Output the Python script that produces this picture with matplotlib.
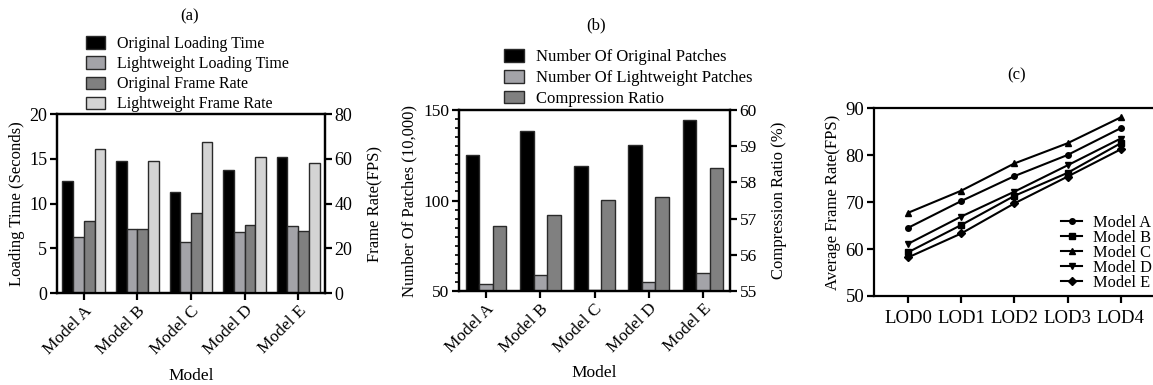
import matplotlib
matplotlib.use("Agg")
import matplotlib.pyplot as plt
import numpy as np
from matplotlib.ticker import MultipleLocator

plt.rcParams['font.family'] = ['Liberation Serif', 'DejaVu Serif']
plt.rcParams['font.size'] = 12

models = ["Model A", "Model B", "Model C", "Model D", "Model E"]

# Panel (a)
orig_load = [12.5, 14.8, 11.3, 13.7, 15.2]
light_load = [6.3, 7.2, 5.7, 6.8, 7.5]
orig_fps = [32.0, 28.8, 35.6, 30.3, 27.5]
light_fps = [64.5, 59.2, 67.7, 61.0, 58.2]

# Panel (b)
orig_patches = [125, 138.5, 119, 130.5, 144.5]
light_patches = [54, 59, 50.5, 55, 60]
comp_ratio = [56.8, 57.1, 57.5, 57.6, 58.4]

# Panel (c)
lods = ["LOD0", "LOD1", "LOD2", "LOD3", "LOD4"]
fps_A = [64.5, 70.2, 75.5, 80.0, 85.7]
fps_B = [59.3, 65.1, 71.3, 76.2, 82.5]
fps_C = [67.7, 72.4, 78.2, 82.5, 88.0]
fps_D = [61.1, 66.9, 72.2, 77.8, 83.5]
fps_E = [58.2, 63.3, 69.7, 75.4, 81.2]

W, H = 1153, 385
fig = plt.figure(figsize=(W/100, H/100), dpi=100)

def ax_at(x0, y0, x1, y1):
    return fig.add_axes([x0/W, 1 - y1/H, (x1-x0)/W, (y1-y0)/H])

C_BLACK = "#000000"
C_LG = "#a3a3a8"
C_DG = "#808080"
C_VL = "#d4d4d4"
EC = "#2a2a2a"
SPW = 1.6

def style(ax, size):
    for s in ax.spines.values():
        s.set_linewidth(SPW)
    ax.tick_params(which='major', length=5, width=SPW, direction='out', labelsize=size, pad=2)
    ax.tick_params(which='minor', length=3, width=1.2, direction='out')

# ---------- (a) ----------
axa = ax_at(57, 114, 325, 293)
axa2 = axa.twinx()
x = np.arange(len(models))
bw = 0.2
h1 = axa.bar(x - 1.5*bw, orig_load, bw, color=C_BLACK, edgecolor=EC, linewidth=1, label="Original Loading Time")
h2 = axa.bar(x - 0.5*bw, light_load, bw, color=C_LG, edgecolor=EC, linewidth=1, label="Lightweight Loading Time")
h3 = axa2.bar(x + 0.5*bw, orig_fps, bw, color=C_DG, edgecolor=EC, linewidth=1, label="Original Frame Rate")
h4 = axa2.bar(x + 1.5*bw, light_fps, bw, color=C_VL, edgecolor=EC, linewidth=1, label="Lightweight Frame Rate")
axa.set_xlim(-0.5, 4.5)
axa.set_ylim(0, 20)
axa2.set_ylim(0, 80)
axa.set_yticks([0, 5, 10, 15, 20])
axa2.set_yticks([0, 20, 40, 60, 80])
axa.set_xticks(x)
style(axa, 13); style(axa2, 13)
axa.set_xticklabels(models, rotation=45, ha='right', rotation_mode='anchor', fontsize=12.5)
axa.set_ylabel("Loading Time (Seconds)", labelpad=3, fontsize=12)
axa2.set_ylabel("Frame Rate(FPS)", labelpad=11, fontsize=12)
axa.set_xlabel("Model", labelpad=7, fontsize=12.5)
fig.text(190/W, 1 - 16/H, "(a)", ha='center', va='center', fontsize=12)
fig.legend(handles=[h1, h2, h3, h4], loc='upper left', bbox_to_anchor=(86/W, 1 - 36/H),
           frameon=False, handlelength=1.2, handleheight=0.8, labelspacing=0.26,
           handletextpad=0.75, borderaxespad=0, borderpad=0, fontsize=11.5)

# ---------- (b) ----------
axb = ax_at(459, 110, 730, 291)
axb2 = axb.twinx()
bw = 0.25
g1 = axb.bar(x - bw, orig_patches, bw, color=C_BLACK, edgecolor=EC, linewidth=1, label="Number Of Original Patches")
g2 = axb.bar(x, light_patches, bw, color=C_LG, edgecolor=EC, linewidth=1, label="Number Of Lightweight Patches")
g3 = axb2.bar(x + bw, comp_ratio, bw, color=C_DG, edgecolor=EC, linewidth=1, label="Compression Ratio")
axb.set_xlim(-0.5, 4.5)
axb.set_ylim(50, 150)
axb2.set_ylim(55, 60)
axb.set_yticks([50, 100, 150])
axb.yaxis.set_minor_locator(MultipleLocator(5))
axb2.set_yticks([55, 56, 57, 58, 59, 60])
axb.set_xticks(x)
style(axb, 12.5); style(axb2, 12.5)
axb.set_xticklabels(models, rotation=45, ha='right', rotation_mode='anchor', fontsize=12.5)
axb.set_ylabel("Number Of Patches (10,000)", labelpad=4, fontsize=12)
axb2.set_ylabel("Compression Ratio (%)", labelpad=10, fontsize=12)
axb.set_xlabel("Model", labelpad=6, fontsize=12.5)
fig.text(596/W, 1 - 25/H, "(b)", ha='center', va='center', fontsize=12)
fig.legend(handles=[g1, g2, g3], loc='upper left', bbox_to_anchor=(504/W, 1 - 49/H),
           frameon=False, handlelength=1.2, handleheight=0.8, labelspacing=0.28,
           handletextpad=0.75, borderaxespad=0, borderpad=0, fontsize=12)

# ---------- (c) ----------
axc = ax_at(874, 108, 1160, 296)
xc = np.arange(len(lods))
series = [(fps_A, 'o', "Model A"), (fps_B, 's', "Model B"), (fps_C, '^', "Model C"),
          (fps_D, 'v', "Model D"), (fps_E, 'D', "Model E")]
for vals, mk, lab in series:
    axc.plot(xc, vals, color='black', linewidth=1.5, marker=mk, markersize=4, label=lab)
axc.set_xlim(-0.64, 4.74)
axc.set_ylim(50, 90)
axc.set_yticks([50, 60, 70, 80, 90])
axc.set_xticks(xc)
axc.set_xticklabels(lods)
style(axc, 13.5)
axc.tick_params(axis='x', pad=5)
axc.set_ylabel("Average Frame Rate(FPS)", fontsize=12, labelpad=3)
axc.spines['right'].set_visible(False)
fig.text(1017/W, 1 - 75/H, "(c)", ha='center', va='center', fontsize=12)
axc.legend(loc='lower left', bbox_to_anchor=(1061/W, 1 - 291/H), bbox_transform=fig.transFigure,
           frameon=False, handlelength=1.3, labelspacing=-0.06, handletextpad=0.65,
           borderaxespad=0, borderpad=0, fontsize=11.8)

fig.savefig("out.png", dpi=100)
